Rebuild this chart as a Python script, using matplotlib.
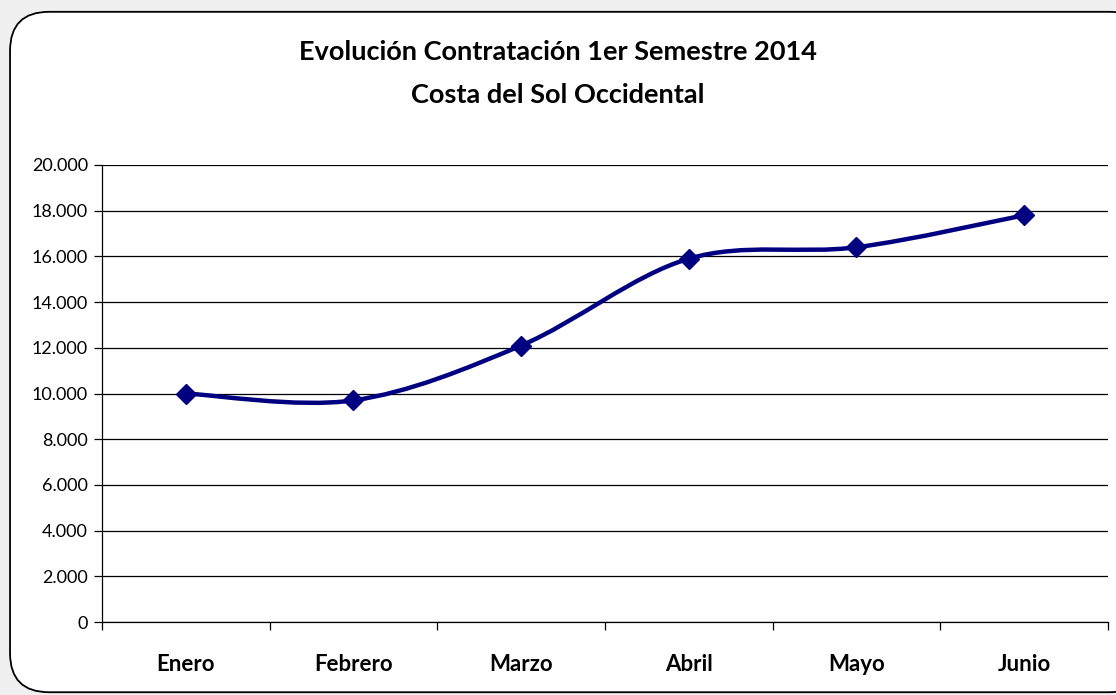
#!/usr/bin/env python3

"""
plot.py
Evolucion contratacion 1er semestre 2014 - Costa del Sol Occidental"""

import matplotlib
matplotlib.use("Agg")
import matplotlib.pyplot as plt
import numpy as np
from matplotlib.path import Path
from matplotlib.patches import PathPatch, FancyBboxPatch
from matplotlib.ticker import FuncFormatter, FixedLocator

meses = ["Enero", "Febrero", "Marzo", "Abril", "Mayo", "Junio"]
contratos = [10000, 9700, 12100, 15900, 16400, 17800]

plt.rcParams["font.family"] = ["Lato", "DejaVu Sans"]

x = np.arange(len(meses))
y = np.array(contratos, dtype=float)

fig = plt.figure(figsize=(11.16, 6.95), dpi=100)
fig.patch.set_facecolor("#f0f0f0")

# rounded chart area, like the excel chart frame (cut off on the right)
frame = FancyBboxPatch((0.009, 0.004), 1.02, 0.979,
                       boxstyle="round,pad=0,rounding_size=0.035",
                       transform=fig.transFigure, facecolor="white",
                       edgecolor="black", linewidth=1.3, mutation_aspect=1116 / 695,
                       zorder=-5)
fig.patches.append(frame)

ax = fig.add_axes([0.0914, 0.105, 0.9014, 0.6576])
ax.set_facecolor("white")
ax.set_zorder(2)

# excel style smoothed line (bezier, catmull-rom control points)
verts = [(x[0], y[0])]
codes = [Path.MOVETO]
n = len(x)
for i in range(n - 1):
    p0 = (x[max(i - 1, 0)], y[max(i - 1, 0)])
    p1 = (x[i], y[i])
    p2 = (x[i + 1], y[i + 1])
    p3 = (x[min(i + 2, n - 1)], y[min(i + 2, n - 1)])
    c1 = (p1[0] + (p2[0] - p0[0]) / 6, p1[1] + (p2[1] - p0[1]) / 6)
    c2 = (p2[0] - (p3[0] - p1[0]) / 6, p2[1] - (p3[1] - p1[1]) / 6)
    verts += [c1, c2, p2]
    codes += [Path.CURVE4] * 3
line = PathPatch(Path(verts, codes), facecolor="none", edgecolor="#000080",
                 linewidth=3.2, zorder=3, capstyle="round", joinstyle="round")
ax.add_patch(line)
ax.plot(x, y, linestyle="none", marker="D", markersize=10, color="#000080", zorder=4)

ax.set_xlim(-0.5, n - 0.5)
ax.set_ylim(0, 20000)
ax.set_yticks(np.arange(0, 20001, 2000))
ax.yaxis.set_major_formatter(FuncFormatter(lambda v, p: f"{int(v):,}".replace(",", ".")))
ax.grid(axis="y", color="black", linewidth=0.9)
ax.set_axisbelow(True)

ax.xaxis.set_major_locator(FixedLocator(np.arange(-0.5, n, 1.0)))
ax.xaxis.set_minor_locator(FixedLocator(x))
ax.set_xticklabels([])
ax.set_xticklabels(meses, minor=True, fontweight="bold", fontsize=16)
ax.tick_params(axis="x", which="major", direction="out", length=6, width=0.9)
ax.tick_params(axis="x", which="minor", length=0, pad=23)
ax.tick_params(axis="y", direction="out", length=6, width=0.9, labelsize=13, pad=4)

for s in ["top", "right"]:
    ax.spines[s].set_visible(False)
ax.spines["left"].set_linewidth(0.9)
ax.spines["bottom"].set_linewidth(0.9)

fig.text(0.5, 0.925, "Evolución Contratación 1er Semestre 2014", ha="center",
         va="center", fontsize=19.5, fontweight="bold")
fig.text(0.5, 0.864, "Costa del Sol Occidental", ha="center", va="center",
         fontsize=19.5, fontweight="bold")

plt.savefig("out.png", dpi=100, facecolor=fig.get_facecolor())
plt.close()
